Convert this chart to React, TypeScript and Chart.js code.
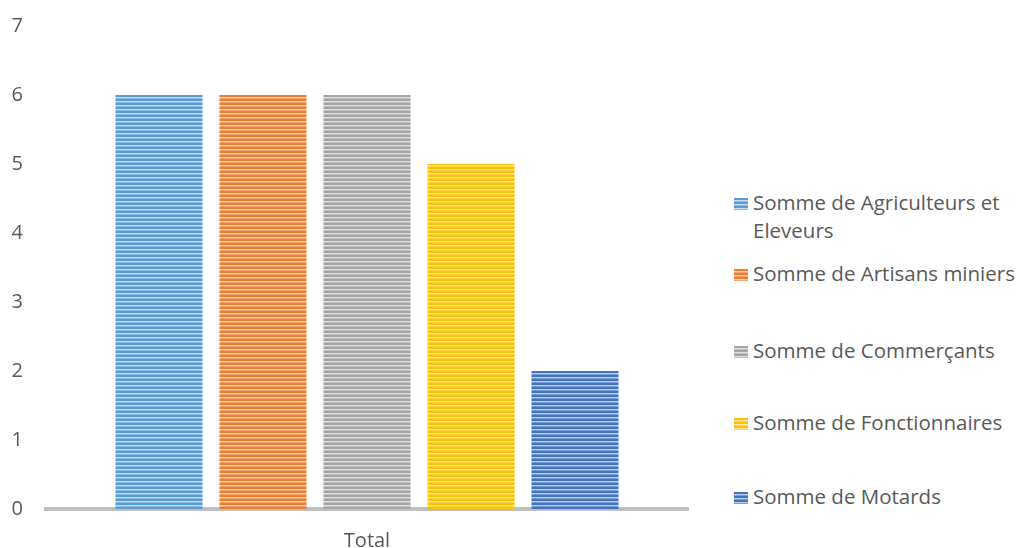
import React, { useEffect, useRef } from "react";
import { Chart, registerables } from "chart.js";

Chart.register(...registerables);

const categories = ["Total"];
const seriesNames = [
  "Somme de Agriculteurs et Eleveurs",
  "Somme de Artisans miniers",
  "Somme de Commerçants",
  "Somme de Fonctionnaires",
  "Somme de Motards",
];
const seriesValues = [6, 6, 6, 5, 2];
const seriesColors = ["#5b9bd5", "#ed7d31", "#a5a5a5", "#ffc000", "#4472c4"];
const yTicks = [0, 1, 2, 3, 4, 5, 6, 7];

const FONT = "'Open Sans', sans-serif";
const TEXT = "#595959";

function mix(hex: string, t: number): string {
  const n = parseInt(hex.slice(1), 16);
  const r = (n >> 16) & 255, g = (n >> 8) & 255, b = n & 255;
  const m = (c: number) => Math.round(c + (255 - c) * t);
  return `rgb(${m(r)},${m(g)},${m(b)})`;
}

// Horizontal stripe fill: two solid rows, one pale row, one half-tone row.
function stripePattern(color: string): CanvasPattern | string {
  const c = document.createElement("canvas");
  c.width = 4;
  c.height = 4;
  const ctx = c.getContext("2d");
  if (!ctx) return color;
  const rows = [color, color, mix(color, 0.65), mix(color, 0.3)];
  rows.forEach((col, i) => {
    ctx.fillStyle = col;
    ctx.fillRect(0, i, 4, 1);
  });
  return ctx.createPattern(c, "repeat") || color;
}

function swatchCss(color: string): string {
  return `repeating-linear-gradient(to bottom, ${color} 0px, ${color} 2px, ${mix(
    color,
    0.65
  )} 2px, ${mix(color, 0.65)} 3px, ${mix(color, 0.3)} 3px, ${mix(color, 0.3)} 4px)`;
}

export default function App() {
  const ref = useRef<HTMLCanvasElement | null>(null);

  useEffect(() => {
    document.body.style.margin = "0";
    const canvas = ref.current;
    if (!canvas) return;
    const chart = new Chart(canvas, {
      type: "bar",
      data: {
        labels: categories,
        datasets: seriesNames.map((name, i) => ({
          label: name,
          data: [seriesValues[i]],
          backgroundColor: stripePattern(seriesColors[i]),
          borderWidth: 0,
          barPercentage: 0.837,
          categoryPercentage: 0.81,
        })),
      },
      options: {
        animation: false,
        responsive: false,
        maintainAspectRatio: false,
        layout: { padding: { left: 0, top: 0, right: 12, bottom: 0 } },
        plugins: {
          legend: { display: false },
          tooltip: { enabled: false },
        },
        scales: {
          x: {
            grid: { display: false, drawTicks: false },
            border: { display: true, color: "#bfbfbf", width: 4 },
            ticks: {
              color: TEXT,
              font: { family: FONT, size: 20 },
              padding: 20,
            },
            afterFit: (s: any) => {
              s.height = 39;
            },
          },
          y: {
            min: 0,
            max: 7,
            afterBuildTicks: (s: any) => {
              s.ticks = yTicks.map((v) => ({ value: v }));
            },
            grid: { display: false, drawTicks: false },
            border: { display: false },
            ticks: {
              color: TEXT,
              font: { family: FONT, size: 20 },
              padding: 23,
            },
            afterFit: (s: any) => {
              s.width = 46;
            },
          },
        },
      },
    });
    return () => chart.destroy();
  }, []);

  const legendTops = [188, 259, 336, 408, 482];

  return (
    <div
      style={{
        position: "relative",
        width: 1021,
        height: 548,
        overflow: "hidden",
        background: "#fff",
      }}
    >
      <canvas ref={ref} width={700} height={557} style={{ position: "absolute", left: 0, top: -9 }} />
      {seriesNames.map((name, i) => (
        <div
          key={name}
          style={{
            position: "absolute",
            left: 734,
            top: legendTops[i],
            width: 287,
            display: "flex",
            alignItems: "flex-start",
            fontFamily: FONT,
            fontSize: 20.5,
            lineHeight: "28px",
            color: TEXT,
          }}
        >
          <span
            style={{
              display: "inline-block",
              width: 14,
              height: 12,
              marginTop: 10,
              marginRight: 5,
              flex: "0 0 auto",
              background: swatchCss(seriesColors[i]),
            }}
          />
          <span style={{ width: 276 }}>{name}</span>
        </div>
      ))}
    </div>
  );
}
